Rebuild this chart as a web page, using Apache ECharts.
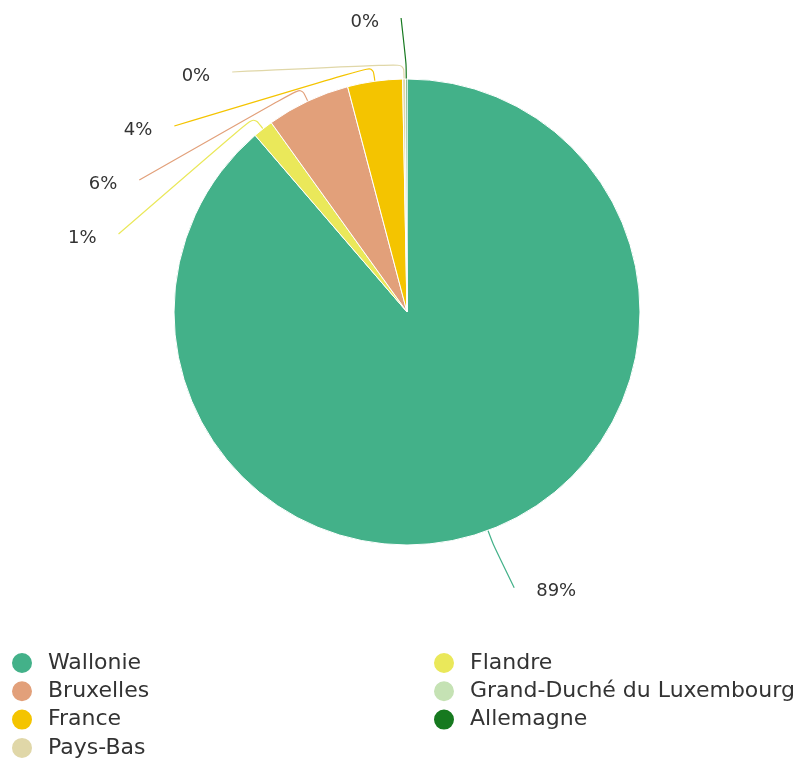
<!DOCTYPE html>
<html><head><meta charset="utf-8">
<script src="https://cdn.jsdelivr.net/npm/echarts@6/dist/echarts.min.js"></script>
<style>html,body{margin:0;padding:0;background:#fff}#c{width:808px;height:762px}</style>
</head><body><div id="c"></div>
<script>
// ---- data ----
const categories = ['Wallonie','Flandre','Bruxelles','France','Pays-Bas','Grand-Duché du Luxembourg','Allemagne'];
const shares = [88.7, 1.4, 5.8, 3.8, 0.2, 0, 0.1];
const legendLeftColumn = ['Wallonie','Bruxelles','France','Pays-Bas'];
const legendRightColumn = ['Flandre','Grand-Duché du Luxembourg','Allemagne'];

// ---- style ----
const colors = ['#43b189','#eae85a','#e2a07a','#f4c400','#e0d7a8','#c5e2b4','#16791f'];
const CX = 407, CY = 312, RADIUS = 233;
const BEND = 15, LABEL_R = 294, SLOT = 54, TEXT_GAP = 22, END_PAD = 5;

// label placement (slots on each side of the pie)
const total = shares.reduce((a, b) => a + b, 0);
let cum = 0;
const mids = shares.map(v => { const m = (cum + v / 2) / total * 2 * Math.PI; cum += v; return m; });
const left = [], right = [];
shares.forEach((v, i) => {
  if (v <= 0) return;
  const m = mids[i];
  const item = { i, m, y: CY - LABEL_R * Math.cos(m), side: Math.sin(m) < 0 ? -1 : 1 };
  (item.side < 0 ? left : right).push(item);
});
function distribute(list) {
  list.sort((a, b) => a.y - b.y);
  for (let k = 1; k < list.length; k++) {
    if (list[k].y < list[k - 1].y + SLOT) list[k].y = list[k - 1].y + SLOT;
  }
}
distribute(left); distribute(right);
const layoutMap = {};
left.concat(right).forEach(it => {
  let dy = it.y - CY;
  if (Math.abs(dy) > LABEL_R) dy = Math.sign(dy) * LABEL_R;
  const xEnd = CX + it.side * (Math.sqrt(LABEL_R * LABEL_R - dy * dy) + END_PAD);
  const rim = [CX + RADIUS * Math.sin(it.m), CY - RADIUS * Math.cos(it.m)];
  const bend = [CX + (RADIUS + BEND) * Math.sin(it.m), CY - (RADIUS + BEND) * Math.cos(it.m)];
  layoutMap[it.i] = {
    x: xEnd + it.side * TEXT_GAP,
    y: it.y + 4,
    align: it.side < 0 ? 'right' : 'left',
    verticalAlign: 'middle',
    labelLinePoints: [rim, bend, [xEnd, it.y]]
  };
});

const chart = echarts.init(document.getElementById('c'));
const legendText = { fontSize: 22, fontFamily: 'DejaVu Sans', color: '#333', padding: [0, 0, 0, 10], lineHeight: 22 };
const legendBase = { orient: 'vertical', top: 651, height: 120, padding: 0, icon: 'circle', itemWidth: 22, itemHeight: 22, itemGap: 4.3, textStyle: legendText, selectedMode: false };
chart.setOption({
  animation: false,
  legend: [
    Object.assign({ left: 10, data: legendLeftColumn }, legendBase),
    Object.assign({ left: 432, data: legendRightColumn }, legendBase)
  ],
  series: [{
    type: 'pie',
    center: [CX, CY],
    radius: RADIUS,
    startAngle: 90,
    clockwise: true,
    avoidLabelOverlap: false,
    itemStyle: { borderColor: '#fff', borderWidth: 1 },
    label: {
      show: true, position: 'outside',
      fontSize: 18, fontFamily: 'DejaVu Sans', color: '#333',
      formatter: p => Math.round(p.percent) + '%'
    },
    labelLine: { show: true, length: BEND, length2: 20, smooth: 0.3, lineStyle: { width: 1.2 } },
    labelLayout: p => layoutMap[p.dataIndex] || {},
    emphasis: { disabled: true },
    data: categories.map((name, i) => ({
      name, value: shares[i],
      itemStyle: { color: colors[i] },
      label: { show: shares[i] > 0 },
      labelLine: { show: shares[i] > 0 }
    }))
  }]
});
</script></body></html>
